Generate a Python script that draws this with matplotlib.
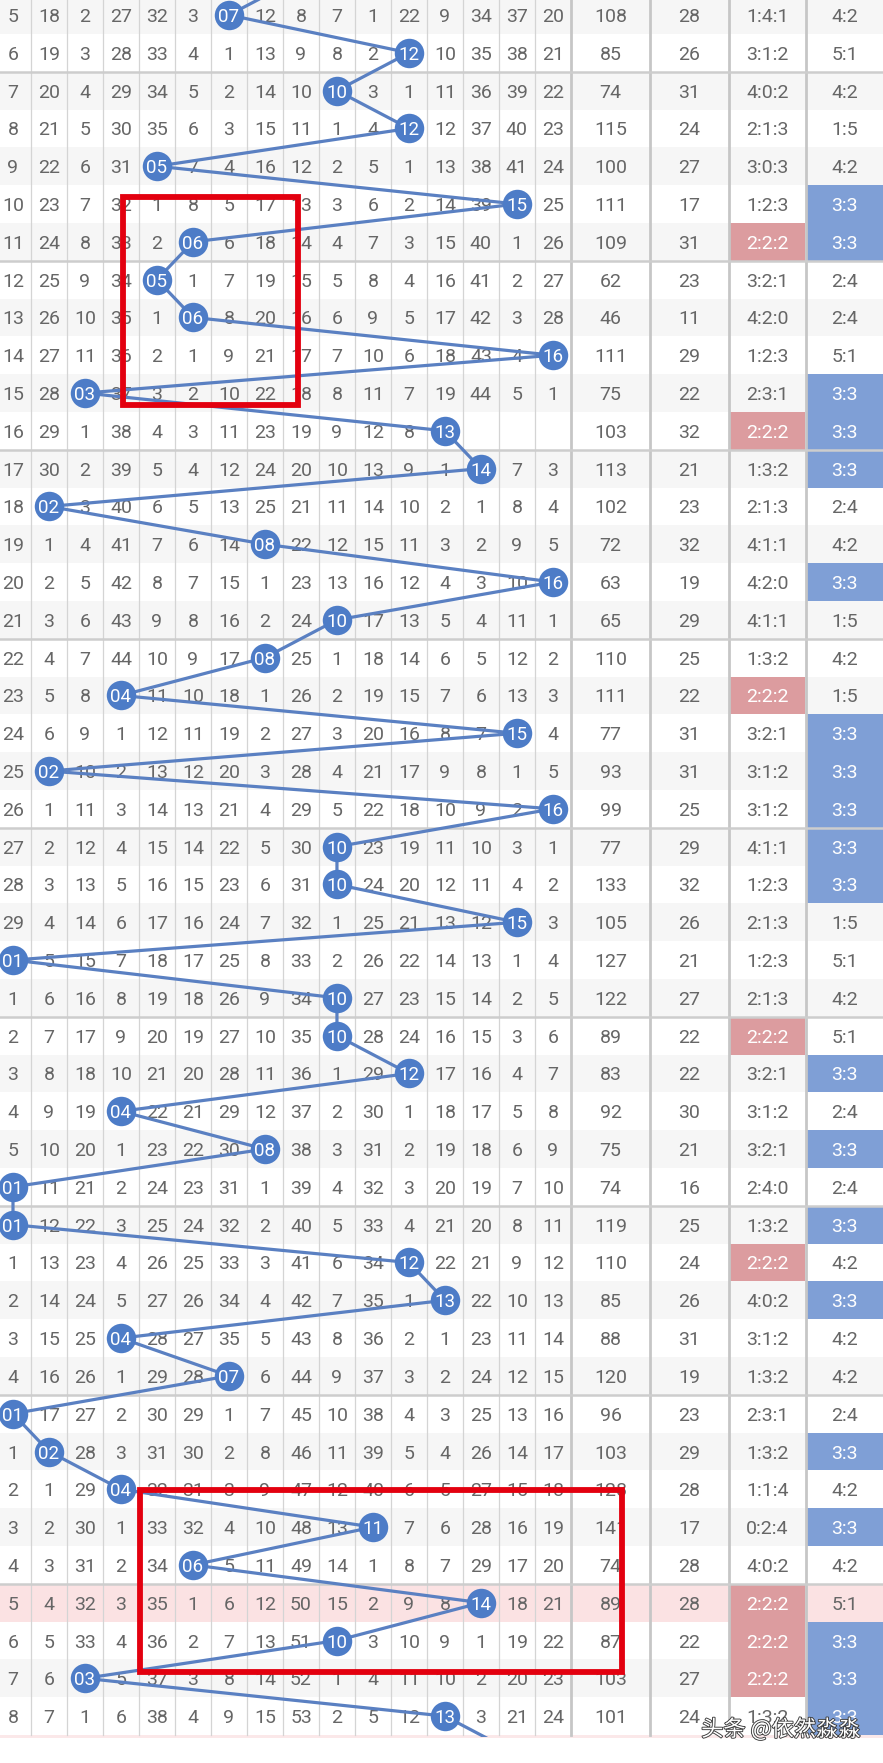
import matplotlib
matplotlib.use("Agg")
import matplotlib.pyplot as plt
from matplotlib.patches import Rectangle
import matplotlib.patheffects as pe

# ---------------- data ----------------
# omission values per row (16 number columns); 0 marks the drawn ball, None = blank
omission = [
    [5,18,2,27,32,3,0,12,8,7,1,22,9,34,37,20],
    [6,19,3,28,33,4,1,13,9,8,2,0,10,35,38,21],
    [7,20,4,29,34,5,2,14,10,0,3,1,11,36,39,22],
    [8,21,5,30,35,6,3,15,11,1,4,0,12,37,40,23],
    [9,22,6,31,0,7,4,16,12,2,5,1,13,38,41,24],
    [10,23,7,32,1,8,5,17,13,3,6,2,14,39,0,25],
    [11,24,8,33,2,0,6,18,14,4,7,3,15,40,1,26],
    [12,25,9,34,0,1,7,19,15,5,8,4,16,41,2,27],
    [13,26,10,35,1,0,8,20,16,6,9,5,17,42,3,28],
    [14,27,11,36,2,1,9,21,17,7,10,6,18,43,4,0],
    [15,28,0,37,3,2,10,22,18,8,11,7,19,44,5,1],
    [16,29,1,38,4,3,11,23,19,9,12,8,0,None,None,None],
    [17,30,2,39,5,4,12,24,20,10,13,9,1,0,7,3],
    [18,0,3,40,6,5,13,25,21,11,14,10,2,1,8,4],
    [19,1,4,41,7,6,14,0,22,12,15,11,3,2,9,5],
    [20,2,5,42,8,7,15,1,23,13,16,12,4,3,10,0],
    [21,3,6,43,9,8,16,2,24,0,17,13,5,4,11,1],
    [22,4,7,44,10,9,17,0,25,1,18,14,6,5,12,2],
    [23,5,8,0,11,10,18,1,26,2,19,15,7,6,13,3],
    [24,6,9,1,12,11,19,2,27,3,20,16,8,7,0,4],
    [25,0,10,2,13,12,20,3,28,4,21,17,9,8,1,5],
    [26,1,11,3,14,13,21,4,29,5,22,18,10,9,2,0],
    [27,2,12,4,15,14,22,5,30,0,23,19,11,10,3,1],
    [28,3,13,5,16,15,23,6,31,0,24,20,12,11,4,2],
    [29,4,14,6,17,16,24,7,32,1,25,21,13,12,0,3],
    [0,5,15,7,18,17,25,8,33,2,26,22,14,13,1,4],
    [1,6,16,8,19,18,26,9,34,0,27,23,15,14,2,5],
    [2,7,17,9,20,19,27,10,35,0,28,24,16,15,3,6],
    [3,8,18,10,21,20,28,11,36,1,29,0,17,16,4,7],
    [4,9,19,0,22,21,29,12,37,2,30,1,18,17,5,8],
    [5,10,20,1,23,22,30,0,38,3,31,2,19,18,6,9],
    [0,11,21,2,24,23,31,1,39,4,32,3,20,19,7,10],
    [0,12,22,3,25,24,32,2,40,5,33,4,21,20,8,11],
    [1,13,23,4,26,25,33,3,41,6,34,0,22,21,9,12],
    [2,14,24,5,27,26,34,4,42,7,35,1,0,22,10,13],
    [3,15,25,0,28,27,35,5,43,8,36,2,1,23,11,14],
    [4,16,26,1,29,28,0,6,44,9,37,3,2,24,12,15],
    [0,17,27,2,30,29,1,7,45,10,38,4,3,25,13,16],
    [1,0,28,3,31,30,2,8,46,11,39,5,4,26,14,17],
    [2,1,29,0,32,31,3,9,47,12,40,6,5,27,15,18],
    [3,2,30,1,33,32,4,10,48,13,0,7,6,28,16,19],
    [4,3,31,2,34,0,5,11,49,14,1,8,7,29,17,20],
    [5,4,32,3,35,1,6,12,50,15,2,9,8,0,18,21],
    [6,5,33,4,36,2,7,13,51,0,3,10,9,1,19,22],
    [7,6,0,5,37,3,8,14,52,1,4,11,10,2,20,23],
    [8,7,1,6,38,4,9,15,53,2,5,12,0,3,21,24],
]
ball_cols = [7,12,10,12,5,15,6,5,6,16,3,13,14,2,8,16,10,8,4,15,2,16,10,10,15,
             1,10,10,12,4,8,1,1,12,13,4,7,1,2,4,11,6,14,10,3,13]
ball_before = 9   # ball of the row above the visible part
ball_after = 15   # ball of the row below the visible part
sum_vals = [108,85,74,115,100,111,109,62,46,111,75,103,113,102,72,63,65,110,111,77,
            93,99,77,133,105,127,122,89,83,92,75,74,119,110,85,88,120,96,103,128,
            141,74,89,87,103,101]
span_vals = [28,26,31,24,27,17,31,23,11,29,22,32,21,23,32,19,29,25,22,31,31,25,29,
             32,26,21,27,22,22,30,21,16,25,24,26,31,19,23,29,28,17,28,28,22,27,24]
ratio3 = ["1:4:1","3:1:2","4:0:2","2:1:3","3:0:3","1:2:3","2:2:2","3:2:1","4:2:0",
          "1:2:3","2:3:1","2:2:2","1:3:2","2:1:3","4:1:1","4:2:0","4:1:1","1:3:2",
          "2:2:2","3:2:1","3:1:2","3:1:2","4:1:1","1:2:3","2:1:3","1:2:3","2:1:3",
          "2:2:2","3:2:1","3:1:2","3:2:1","2:4:0","1:3:2","2:2:2","4:0:2","3:1:2",
          "1:3:2","2:3:1","1:3:2","1:1:4","0:2:4","4:0:2","2:2:2","2:2:2","2:2:2",
          "1:3:2"]
ratio2 = ["4:2","5:1","4:2","1:5","4:2","3:3","3:3","2:4","2:4","5:1","3:3","3:3",
          "3:3","2:4","4:2","3:3","1:5","4:2","1:5","3:3","3:3","3:3","3:3","3:3",
          "1:5","5:1","4:2","5:1","3:3","2:4","3:3","2:4","3:3","4:2","3:3","4:2",
          "4:2","2:4","3:3","4:2","3:3","4:2","5:1","3:3","3:3","3:3"]
highlight_row = 43
watermark = "头条 @依然淼淼"

# ---------------- layout ----------------
n_rows = len(omission)
extra_w = [2.2, 2.19, 2.14, 2.14]
edges = [16.0]
for w in extra_w:
    edges.append(edges[-1] + w)

fig = plt.figure(figsize=(8.83, 17.63), dpi=100)
ax = fig.add_axes([0, 0, 1, 1])
ax.set_xlim(0.139, 24.67)
ax.set_ylim(47.24, 0.603)
ax.axis("off")

TXT = "#666666"
BALL = "#4d7cc7"
LINE = "#5a80c2"
RED_CELL = "#dc9c9f"
BLUE_CELL = "#7f9fd6"
font = dict(family=["Roboto", "DejaVu Sans"], fontweight="normal")

right = edges[-1]
# row backgrounds
for i in range(n_rows):
    r = i + 1
    if r == highlight_row:
        col = "#fbe2e3"
    elif r % 2 == 1:
        col = "#f6f6f6"
    else:
        col = "#ffffff"
    ax.add_patch(Rectangle((0, r - 0.5), right, 1, fc=col, ec="none", zorder=0))
# faint pink strip of next row
ax.add_patch(Rectangle((0, n_rows + 0.5), right, 0.08, fc="#fbe8e9", ec="none", zorder=0))

# coloured cells
for i in range(n_rows):
    r = i + 1
    if ratio3[i] == "2:2:2":
        ax.add_patch(Rectangle((edges[2] + 0.03, r - 0.5), extra_w[2] - 0.06, 1,
                               fc=RED_CELL, ec="none", zorder=1))
    if ratio2[i] == "3:3":
        ax.add_patch(Rectangle((edges[3] + 0.03, r - 0.5), extra_w[3], 1,
                               fc=BLUE_CELL, ec="none", zorder=1))

# vertical grid lines
top, bot = 0.4, n_rows + 0.5
for k in range(1, 16):
    ax.plot([k, k], [top, bot], color="#d4d4d4", lw=0.9, zorder=2)
for e in edges[:-1]:
    ax.plot([e, e], [top, bot], color="#c6c6c6", lw=2.0, zorder=2)
# group horizontal lines
for r in range(2, n_rows, 5):
    ax.plot([0, right], [r + 0.5, r + 0.5], color="#cdcdcd", lw=1.8, zorder=2)

# numbers
for i, row in enumerate(omission):
    r = i + 1
    for j, v in enumerate(row):
        if v is None or v == 0:
            continue
        ax.text(j + 0.5, r, str(v), ha="center", va="center_baseline",
                fontsize=14, color=TXT, zorder=3, **font)
    cells = [(str(sum_vals[i]), TXT), (str(span_vals[i]), TXT),
             (ratio3[i], "white" if ratio3[i] == "2:2:2" else TXT),
             (ratio2[i], "white" if ratio2[i] == "3:3" else TXT)]
    for c, (s, tc) in enumerate(cells):
        ax.text(edges[c] + extra_w[c] / 2, r, s, ha="center", va="center_baseline",
                fontsize=14, color=tc, zorder=3, **font)

# trend line
xs = [ball_before - 0.5] + [c - 0.5 for c in ball_cols] + [ball_after - 0.5]
ys = list(range(0, n_rows + 2))
ln, = ax.plot(xs, ys, color=LINE, lw=2.3, zorder=4, solid_capstyle="round")
clip = Rectangle((0, 0), right, n_rows + 0.55, transform=ax.transData)
ln.set_clip_path(clip)

# balls
bx = [c - 0.5 for c in ball_cols]
by = list(range(1, n_rows + 1))
ax.scatter(bx, by, s=450, color=BALL, zorder=5, linewidths=0)
for x, y, c in zip(bx, by, ball_cols):
    ax.text(x, y, f"{c:02d}", ha="center", va="center_baseline", fontsize=13.5,
            color="white", zorder=6, **font)

# red boxes
ax.add_patch(Rectangle((3.55, 5.81), 8.42 - 3.55, 11.32 - 5.81, fill=False,
                       ec="#e3000f", lw=4.2, zorder=7, joinstyle="miter"))
ax.add_patch(Rectangle((4.02, 40.02), 17.42 - 4.02, 44.83 - 40.02, fill=False,
                       ec="#e3000f", lw=4.2, zorder=7, joinstyle="miter"))

# watermark
ax.text(24.05, 46.35, watermark, ha="right", va="center", fontsize=16,
        color="white", family=["Noto Sans CJK SC", "DejaVu Sans"], zorder=8,
        path_effects=[pe.withStroke(linewidth=1.3, foreground="#3a3a3a")])

fig.savefig("out.png", dpi=100)
